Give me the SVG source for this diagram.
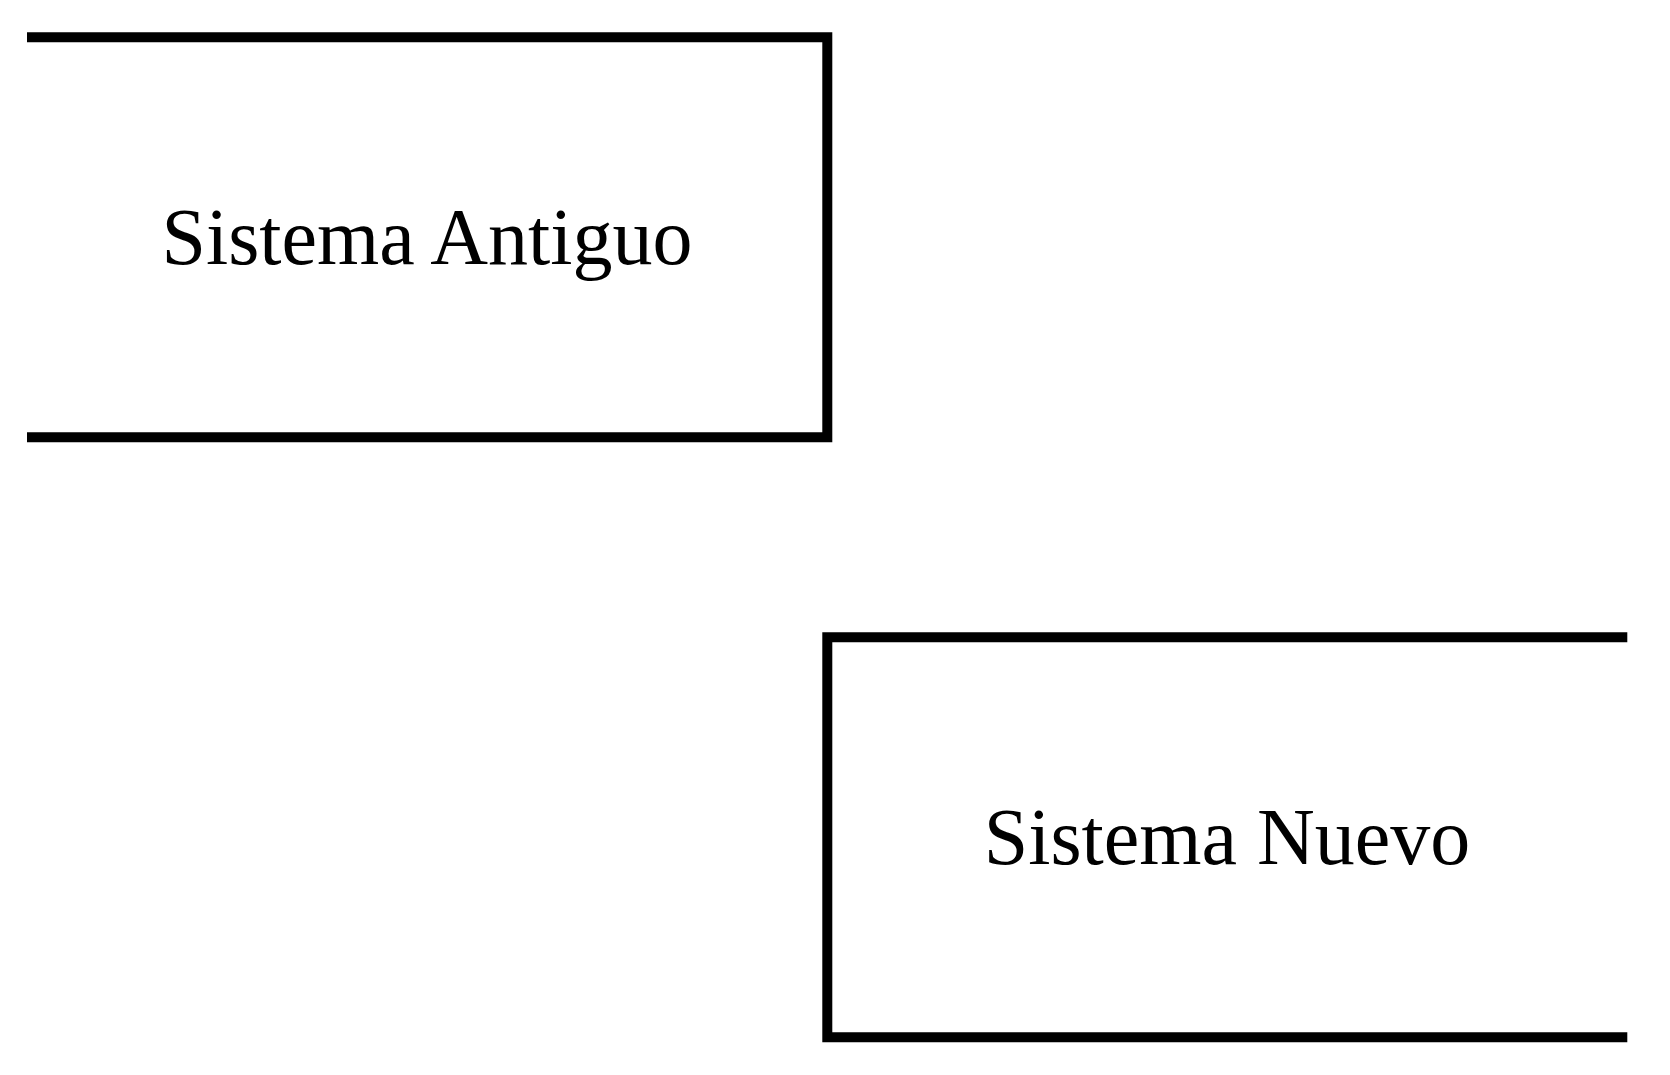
<svg xmlns="http://www.w3.org/2000/svg" width="1670" height="1075" viewBox="0 0 1670 1075">
<style>
.frame{fill:none;stroke:#000;stroke-width:10;stroke-linejoin:miter;stroke-linecap:butt}
.lbl{font-family:"Liberation Serif","Times New Roman",serif;font-size:80px;fill:#000;text-anchor:middle}
</style>
<rect width="1670" height="1075" fill="#fff"/>
<g id="connectors"></g>
<g id="sistema-antiguo">
<path class="frame" d="M27,37.3 H827.3 V437.3 H27"/>
<text class="lbl" x="427" y="264">Sistema Antiguo</text>
</g>
<g id="sistema-nuevo">
<path class="frame" d="M1627.3,637.3 H827.3 V1037.3 H1627.3"/>
<text class="lbl" x="1227" y="864">Sistema Nuevo</text>
</g>
</svg>
